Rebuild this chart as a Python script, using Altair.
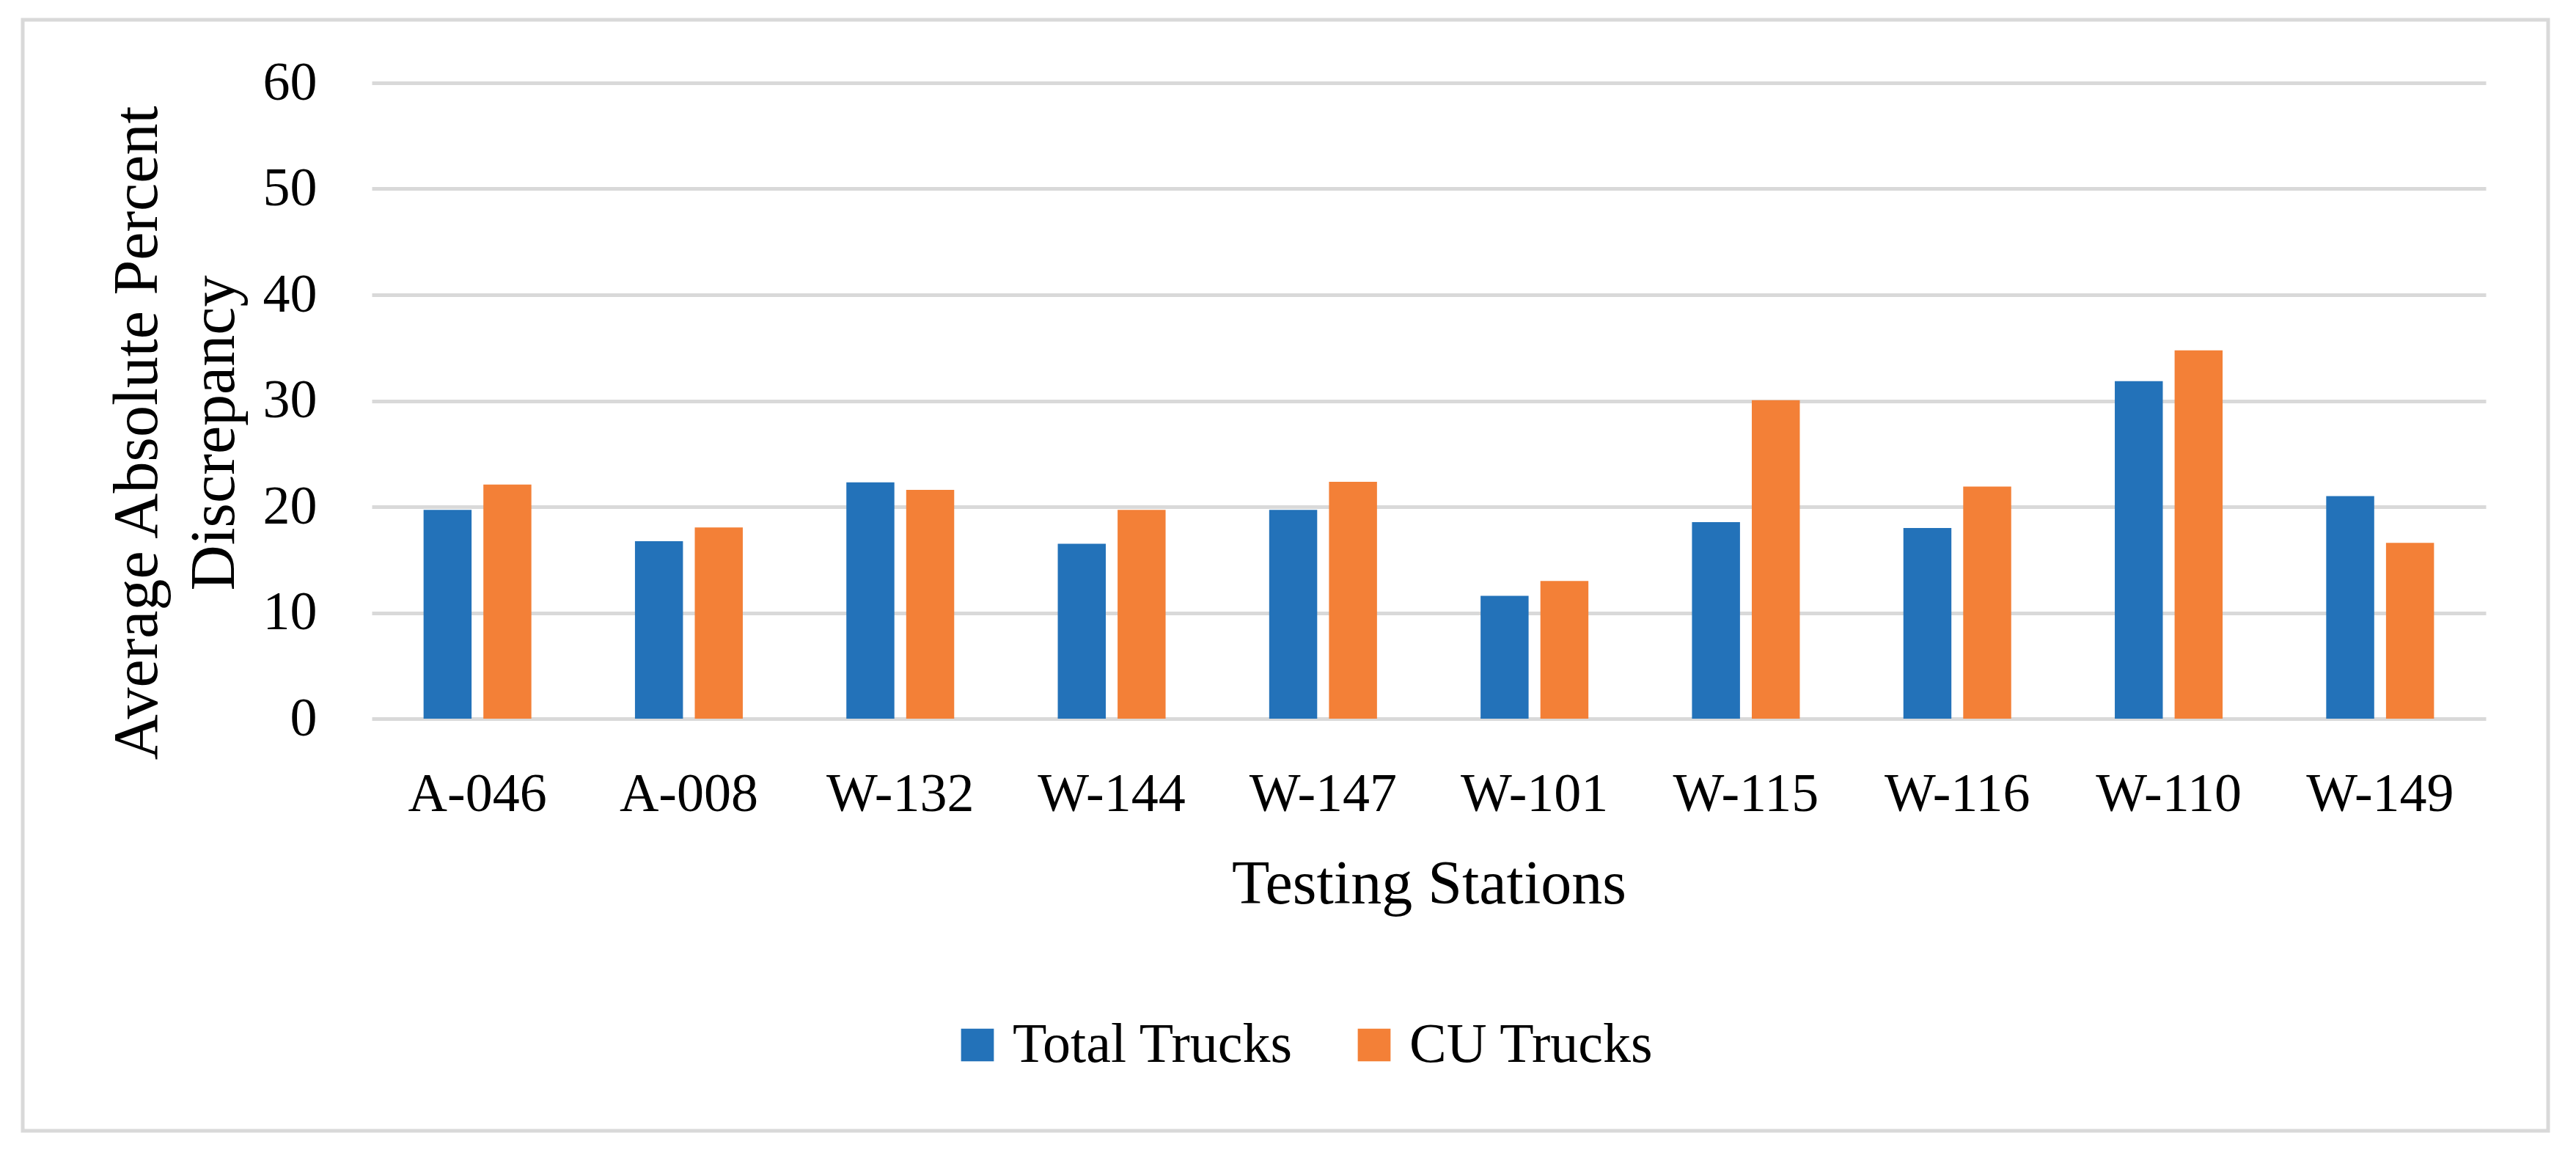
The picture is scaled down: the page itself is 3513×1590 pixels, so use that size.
import altair as alt
import pandas as pd

stations = ["A-046", "A-008", "W-132", "W-144", "W-147", "W-101", "W-115", "W-116", "W-110", "W-149"]
total_trucks = [19.7, 16.75, 22.3, 16.5, 19.7, 11.6, 18.55, 18.0, 31.85, 21.0]
cu_trucks = [22.1, 18.05, 21.6, 19.7, 22.35, 13.0, 30.05, 21.9, 34.75, 16.6]
series = ["Total Trucks", "CU Trucks"]
colors = ["#2372B9", "#F38037"]
y_ticks = [0, 10, 20, 30, 40, 50, 60]

rows = []
for i, s in enumerate(stations):
    rows.append({"station": s, "series": series[0], "value": total_trucks[i]})
    rows.append({"station": s, "series": series[1], "value": cu_trucks[i]})
df = pd.DataFrame(rows)

FONT = "Liberation Serif"
W, H = 2883, 867

bars = alt.Chart(df).mark_bar().encode(
    x=alt.X("station:N", sort=stations,
            scale=alt.Scale(paddingInner=0.49, paddingOuter=0.245),
            axis=alt.Axis(title="Testing Stations", labelAngle=0, ticks=False, tickSize=0,
                          domain=False, grid=False, labelPadding=125, labelLimit=0,
                          labelBaseline="alphabetic", labelFontSize=74, labelFont=FONT,
                          labelColor="#000000", titleFont=FONT, titleFontSize=84,
                          titleFontWeight="normal", titleColor="#000000",
                          titleBaseline="alphabetic", titleY=251)),
    xOffset=alt.XOffset("series:N", sort=series,
                        scale=alt.Scale(paddingInner=0.1975, paddingOuter=0)),
    y=alt.Y("value:Q",
            scale=alt.Scale(domain=[0, 60], nice=False),
            axis=alt.Axis(title=["Average Absolute Percent", "Discrepancy"], values=y_ticks,
                          ticks=False, tickSize=0, domain=False, grid=True,
                          gridColor="#D9D9D9", gridWidth=5, labelPadding=75, labelLimit=0,
                          labelFontSize=74, labelFont=FONT, labelColor="#000000",
                          titleFont=FONT, titleFontSize=86, titleFontWeight="normal",
                          titleColor="#000000", titleBaseline="alphabetic", titleLimit=0,
                          titleLineHeight=105, titleX=-294, titleY=477,
                          titleAlign="center", titleAngle=270)),
    color=alt.Color("series:N", sort=series,
                    scale=alt.Scale(domain=series, range=colors),
                    legend=alt.Legend(title=None, orient="none", direction="horizontal",
                                      legendX=788, legendY=1274, symbolType="square",
                                      symbolSize=2000, symbolStrokeWidth=0,
                                      labelFont=FONT, labelFontSize=76, labelLimit=0,
                                      labelColor="#000000", labelOffset=10,
                                      columnPadding=72, padding=0)),
)

frame = alt.Chart(pd.DataFrame({"k": [0]})).mark_rect(
    fill=None, stroke="#D9D9D9", strokeWidth=5
).encode(
    x=alt.value(-476), x2=alt.value(2968), y=alt.value(-86), y2=alt.value(1429)
)

chart = alt.layer(frame, bars).properties(
    width=W, height=H,
    autosize=alt.AutoSizeParams(type="none"),
    padding={"left": 499, "top": 105, "right": 115, "bottom": 602},
).configure(background="#FFFFFF").configure_view(stroke=None)

chart.save("out.html", embed_options={"renderer": "svg", "actions": False})
